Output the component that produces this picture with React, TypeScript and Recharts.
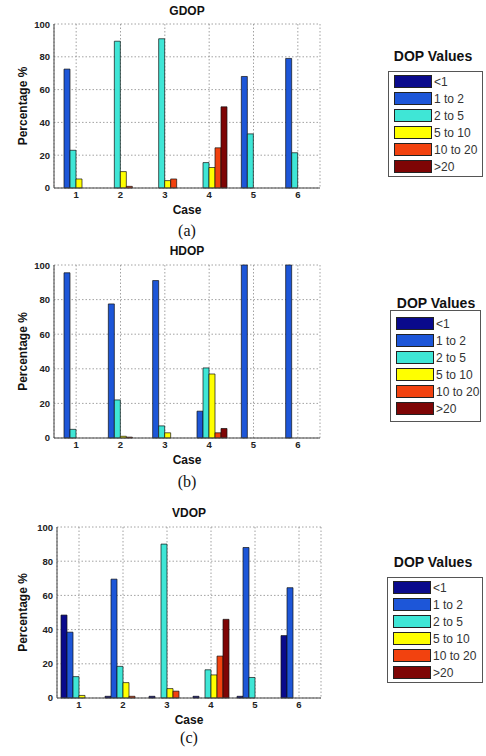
import React from 'react';
import { BarChart, Bar, XAxis, YAxis, CartesianGrid } from 'recharts';

const cases = ['1', '2', '3', '4', '5', '6'];
const dopBins = ['<1', '1 to 2', '2 to 5', '5 to 10', '10 to 20', '>20'];
const binColors = ['#0a0a8c', '#1d56d8', '#3fe6d6', '#ffff00', '#f2420f', '#7e0505'];
const yTicks = [0, 20, 40, 60, 80, 100];

// rows = DOP bin (<1 ... >20), columns = case 1..6
const gdopValues = [
  [0, 0, 0, 0, 0, 0],
  [72.5, 0, 0, 0, 68, 79],
  [23, 89.5, 91, 15.5, 33, 21.5],
  [5.5, 10, 4.5, 12.5, 0, 0],
  [0, 1, 5.5, 24.5, 0, 0],
  [0, 0, 0, 49.5, 0, 0],
];
const hdopValues = [
  [0, 0, 0, 0, 0, 0],
  [95.5, 77.5, 91, 15.5, 100, 100],
  [5, 22, 7, 40.5, 0, 0],
  [0, 1, 3, 37, 0, 0],
  [0, 0.5, 0, 3, 0, 0],
  [0, 0, 0, 5.5, 0, 0],
];
const vdopValues = [
  [48.5, 1, 1, 1, 1, 36.5],
  [38.5, 69.5, 0, 0, 88, 64.5],
  [12.5, 18.5, 90, 16.5, 12, 0],
  [1.5, 9, 5.5, 13.5, 0, 0],
  [0, 1, 4, 24.5, 0, 0],
  [0, 0, 0, 46, 0, 0],
];

const sans = '"Liberation Sans", Arial, sans-serif';
const serif = '"Liberation Serif", "Times New Roman", serif';

const toRows = (values: number[][]) =>
  cases.map((c, i) => {
    const row: any = { name: c };
    dopBins.forEach((b, j) => {
      row['b' + j] = values[j][i];
    });
    return row;
  });

type Box = { left: number; right: number; top: number; bottom: number };
type LegendPos = { x: number; y: number; w: number; h: number; titleX: number; titleY: number };

interface PanelProps {
  title: string;
  caption: string;
  values: number[][];
  plot: Box;
  titleY: number;
  captionY: number;
  legend: LegendPos;
}

const DopLegend = ({ pos }: { pos: LegendPos }) => (
  <>
    <div
      style={{
        position: 'absolute',
        left: pos.titleX - 60,
        width: 120,
        top: pos.titleY - 9,
        height: 18,
        lineHeight: '18px',
        textAlign: 'center',
        fontFamily: sans,
        fontWeight: 'bold',
        fontSize: 14,
        color: '#111',
      }}
    >
      DOP Values
    </div>
    <div
      style={{
        position: 'absolute',
        left: pos.x,
        top: pos.y,
        width: pos.w,
        height: pos.h,
        boxSizing: 'border-box',
        border: '1px solid #555',
        display: 'flex',
        flexDirection: 'column',
        justifyContent: 'center',
        paddingLeft: 5,
      }}
    >
      {dopBins.map((b, i) => (
        <div key={b} style={{ display: 'flex', alignItems: 'center', height: 17 }}>
          <div
            style={{
              width: 38,
              height: 13,
              boxSizing: 'border-box',
              border: '1px solid #222',
              background: binColors[i],
            }}
          />
          <span style={{ marginLeft: 2, fontFamily: sans, fontSize: 12, color: '#333' }}>{b}</span>
        </div>
      ))}
    </div>
  </>
);

const DopPanel = ({ title, caption, values, plot, titleY, captionY, legend }: PanelProps) => {
  const data = toRows(values);
  const mTop = 4;
  const mRight = 6;
  const xAxisH = 30;
  const width = plot.right + mRight;
  const height = plot.bottom - plot.top + mTop + xAxisH;
  const midX = (plot.left + plot.right) / 2;

  const yLabel = (props: any) => {
    const vb = props.viewBox || { x: 0, y: 0, width: 0, height: 0 };
    const cx = vb.x + 23;
    const cy = vb.y + vb.height / 2;
    return (
      <text
        transform={`translate(${cx},${cy}) rotate(-90)`}
        textAnchor="middle"
        dy="0.35em"
        fontFamily={sans}
        fontWeight="bold"
        fontSize={12}
        fill="#111"
      >
        Percentage %
      </text>
    );
  };

  const xLabel = (props: any) => {
    const vb = props.viewBox || { x: 0, y: 0, width: 0, height: 0 };
    return (
      <text
        x={vb.x + vb.width / 2}
        y={vb.y + 22}
        textAnchor="middle"
        dy="0.35em"
        fontFamily={sans}
        fontWeight="bold"
        fontSize={12}
        fill="#111"
      >
        Case
      </text>
    );
  };

  return (
    <>
      <div
        style={{
          position: 'absolute',
          left: plot.left,
          width: plot.right - plot.left,
          top: titleY - 8,
          height: 16,
          lineHeight: '16px',
          textAlign: 'center',
          fontFamily: sans,
          fontWeight: 'bold',
          fontSize: 12,
          color: '#111',
        }}
      >
        {title}
      </div>
      <div style={{ position: 'absolute', left: 0, top: plot.top - mTop }}>
        <BarChart
          width={width}
          height={height}
          data={data}
          margin={{ top: mTop, right: mRight, left: 0, bottom: 0 }}
          barGap={0}
        >
          <CartesianGrid stroke="#8a8a8a" strokeDasharray="1.5 2" strokeWidth={0.8} />
          <XAxis
            dataKey="name"
            height={xAxisH}
            tickLine={false}
            tickSize={2}
            tickMargin={1}
            stroke="#444"
            tick={{ fontFamily: sans, fontWeight: 'bold', fontSize: 9.5, fill: '#222' }}
            label={{ content: xLabel }}
          />
          <XAxis
            xAxisId="top"
            dataKey="name"
            orientation="top"
            height={0}
            tick={false}
            tickLine={false}
            stroke="#444"
          />
          <YAxis
            width={plot.left}
            domain={[0, 100]}
            ticks={yTicks}
            tickLine={false}
            tickSize={2}
            tickMargin={2}
            stroke="#444"
            tick={{ fontFamily: sans, fontWeight: 'bold', fontSize: 9.5, fill: '#222' }}
            label={{ content: yLabel }}
          />
          <YAxis
            yAxisId="right"
            orientation="right"
            width={0}
            domain={[0, 100]}
            ticks={yTicks}
            tick={false}
            tickLine={false}
            stroke="#444"
          />
          {dopBins.map((b, j) => (
            <Bar
              key={b}
              dataKey={'b' + j}
              name={b}
              fill={binColors[j]}
              stroke="#111"
              strokeWidth={0.7}
              barSize={6}
              isAnimationActive={false}
            />
          ))}
        </BarChart>
      </div>
      <div
        style={{
          position: 'absolute',
          left: midX - 30,
          width: 60,
          top: captionY - 8,
          height: 16,
          lineHeight: '16px',
          textAlign: 'center',
          fontFamily: serif,
          fontSize: 16,
          color: '#111',
        }}
      >
        {caption}
      </div>
      <DopLegend pos={legend} />
    </>
  );
};

export default function App() {
  return (
    <div
      style={{
        position: 'absolute',
        left: 0,
        top: 0,
        width: 486,
        height: 756,
        background: '#fff',
        overflow: 'hidden',
      }}
    >
      <DopPanel
        title="GDOP"
        caption="(a)"
        values={gdopValues}
        plot={{ left: 54, right: 320, top: 24, bottom: 188 }}
        titleY={11}
        captionY={231}
        legend={{ x: 388, y: 71, w: 95, h: 106, titleX: 433, titleY: 56 }}
      />
      <DopPanel
        title="HDOP"
        caption="(b)"
        values={hdopValues}
        plot={{ left: 54, right: 320, top: 265, bottom: 438 }}
        titleY={251}
        captionY={482}
        legend={{ x: 390, y: 310, w: 91, h: 112, titleX: 436, titleY: 303 }}
      />
      <DopPanel
        title="VDOP"
        caption="(c)"
        values={vdopValues}
        plot={{ left: 57, right: 321, top: 527, bottom: 698 }}
        titleY={513}
        captionY={738}
        legend={{ x: 387, y: 577, w: 96, h: 106, titleX: 433, titleY: 562 }}
      />
    </div>
  );
}
